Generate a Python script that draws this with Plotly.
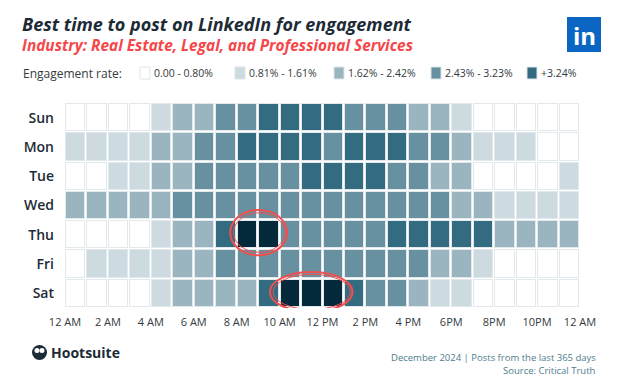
import plotly.graph_objects as go

days = ["Sun", "Mon", "Tue", "Wed", "Thu", "Fri", "Sat"]
hours = list(range(24))
tick_labels = ["12 AM", "2 AM", "4 AM", "6 AM", "8 AM", "10 AM", "12 PM",
               "2 PM", "4 PM", "6PM", "8PM", "10PM", "12 AM"]

# engagement bucket (0..5) per hour, 12 AM .. 11 PM
sun = [0, 0, 0, 0, 1, 2, 2, 3, 3, 4, 4, 4, 4, 3, 3, 3, 2, 2, 1, 0, 0, 0, 0, 0]
mon = [1, 1, 1, 1, 2, 2, 3, 3, 4, 4, 4, 4, 3, 4, 4, 4, 3, 3, 2, 1, 1, 1, 0, 0]
tue = [0, 0, 1, 1, 2, 2, 3, 3, 3, 3, 3, 4, 4, 4, 4, 3, 3, 2, 2, 0, 0, 0, 0, 1]
wed = [2, 2, 2, 2, 2, 3, 3, 3, 3, 3, 3, 3, 3, 3, 3, 3, 3, 3, 2, 2, 1, 1, 1, 1]
thu = [0, 0, 0, 0, 1, 2, 2, 4, 5, 5, 3, 3, 3, 3, 3, 4, 4, 4, 4, 4, 2, 2, 2, 2]
fri = [0, 1, 1, 1, 1, 2, 2, 3, 3, 3, 3, 3, 3, 3, 3, 3, 3, 2, 2, 1, 0, 0, 0, 0]
sat = [0, 0, 0, 0, 1, 2, 2, 2, 2, 4, 5, 5, 5, 4, 3, 3, 2, 1, 1, 0, 0, 0, 0, 0]
levels = [sun, mon, tue, wed, thu, fri, sat]

legend_labels = ["0.00 - 0.80%", "0.81% - 1.61%", "1.62% - 2.42%", "2.43% - 3.23%", "+3.24%"]
level_colors = ["#ffffff", "#cddbe0", "#9bb5c0", "#6790a0", "#336c80", "#03293a"]

# discrete colorscale
cs = []
n = len(level_colors)
for i, c in enumerate(level_colors):
    cs.append([i / n, c])
    cs.append([(i + 1) / n, c])

fig = go.Figure()
fig.add_trace(go.Heatmap(
    z=[[1] * 24 for _ in days], x=hours, y=list(range(7)),
    colorscale=[[0, "#e2e9ed"], [1, "#e2e9ed"]], showscale=False,
    xgap=1, ygap=1, hoverinfo="skip"))
fig.add_trace(go.Heatmap(
    z=levels, x=hours, y=list(range(7)),
    colorscale=cs, zmin=-0.5, zmax=5.5, showscale=False,
    xgap=3, ygap=3))

# hand-drawn red circles
red = "#f0504f"
fig.add_shape(type="circle", x0=7.2, x1=9.85, y0=3.15, y1=4.7, line=dict(color=red, width=2))
fig.add_shape(type="circle", x0=7.35, x1=9.75, y0=3.25, y1=4.6, line=dict(color=red, width=1))
fig.add_shape(type="circle", x0=9.05, x1=12.9, y0=5.27, y1=6.63, line=dict(color=red, width=2))
fig.add_shape(type="circle", x0=9.2, x1=12.8, y0=5.35, y1=6.55, line=dict(color=red, width=1))

fig.update_xaxes(
    range=[-0.5, 23.5], tickvals=[h - 0.5 for h in range(0, 25, 2)], ticktext=tick_labels,
    showgrid=False, zeroline=False, ticks="", ticklabelstandoff=6,
    tickfont=dict(family="Open Sans", size=11, color="#333a40"),
    showline=False)
fig.update_yaxes(
    range=[6.5, -0.5], tickvals=list(range(7)), ticktext=days,
    showgrid=False, zeroline=False, ticks="", ticklabelstandoff=10,
    tickfont=dict(family="Open Sans", size=14, color="#1c2b36", weight=600))

W, H = 620, 388
ml, mr, mt, mb = 65, 40, 103, 80
pw, ph = W - ml - mr, H - mt - mb

def px(x):
    return (x - ml) / pw

def py(y):
    return 1 - (y - mt) / ph

def txt(text, x, y, size, color, anchor="left", family="Open Sans"):
    return dict(text=text, xref="paper", yref="paper", x=px(x), y=py(y),
                xanchor=anchor, yanchor="middle", showarrow=False, borderpad=0,
                font=dict(family=family, size=size, color=color))

annotations = [
    txt("<b><i>Best time to post on LinkedIn for engagement</i></b>", 21, 23.5, 18, "#1c2b36"),
    txt("<b><i>Industry: Real Estate, Legal, and Professional Services</i></b>", 21, 46, 15.4, "#f5474a"),
    txt("Engagement rate:", 22, 73, 12, "#333a40"),
    txt("<b>Hootsuite</b>", 50, 352, 14, "#1c2b36"),
    txt("December 2024 | Posts from the last 365 days", 597, 357, 9.5, "#4d7d8d", "right"),
    txt("Source: Critical Truth", 597, 370, 9.5, "#4d7d8d", "right"),
    txt("<b>in</b>", 584, 36, 24, "#ffffff", "center"),
]
leg_x = [140, 235, 334, 431, 527]
for lx, lab in zip(leg_x, legend_labels):
    annotations.append(txt(lab, lx + 13, 73, 10.5, "#333a40"))

shapes = []
for i, lx in enumerate(leg_x):
    shapes.append(dict(type="rect", xref="paper", yref="paper",
                       x0=px(lx), x1=px(lx + 10), y0=py(67), y1=py(79),
                       fillcolor=level_colors[i], line=dict(color="#dde5e9", width=1)))
shapes.append(dict(type="rect", xref="paper", yref="paper",
                   x0=px(567), x1=px(601), y0=py(17), y1=py(52),
                   fillcolor="#0a66c2", line=dict(width=0)))
# hootsuite owl mark
shapes.append(dict(type="circle", xref="paper", yref="paper",
                   x0=px(32), x1=px(47), y0=py(345), y1=py(360),
                   fillcolor="#1c2b36", line=dict(width=0)))
shapes.append(dict(type="circle", xref="paper", yref="paper",
                   x0=px(34.5), x1=px(39.5), y0=py(348), y1=py(353),
                   fillcolor="#ffffff", line=dict(width=0)))
shapes.append(dict(type="circle", xref="paper", yref="paper",
                   x0=px(39.5), x1=px(44.5), y0=py(348), y1=py(353),
                   fillcolor="#ffffff", line=dict(width=0)))

for s in shapes:
    fig.add_shape(**s)

fig.update_layout(
    width=W, height=H, margin=dict(l=ml, r=mr, t=mt, b=mb, autoexpand=False),
    paper_bgcolor="white", plot_bgcolor="white",
    annotations=annotations, showlegend=False,
)

fig.write_html("out.html", config={"displayModeBar": False},
               post_script="document.body.style.margin='0px';")
